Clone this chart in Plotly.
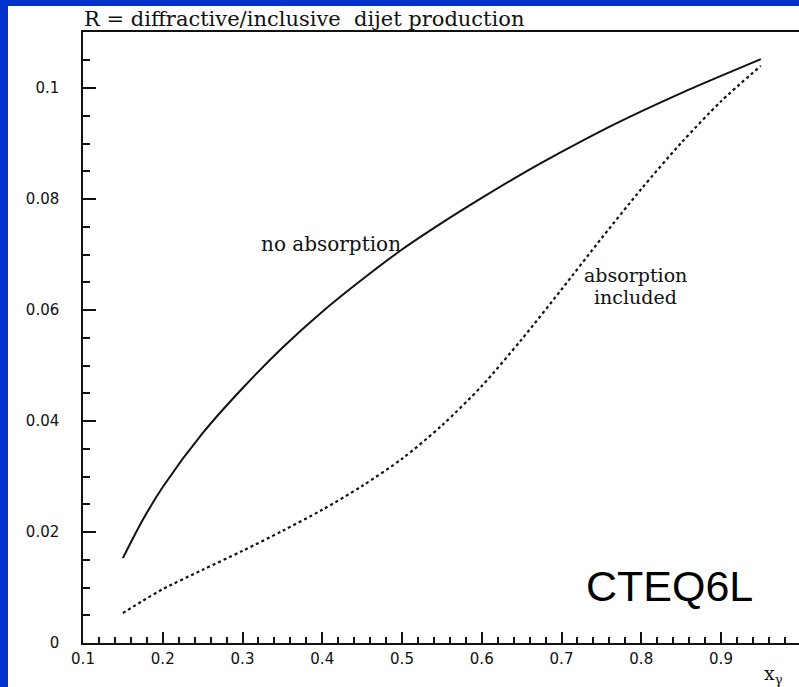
import plotly.graph_objects as go

# x_gamma grid and ratio R for the two predictions
x_gamma = [0.15, 0.175, 0.2, 0.25, 0.3, 0.35, 0.4, 0.45, 0.5, 0.55, 0.6,
           0.65, 0.7, 0.75, 0.8, 0.85, 0.9, 0.95]
r_no_absorption = [0.0153, 0.0222, 0.0281, 0.0378, 0.0459, 0.0532, 0.0597, 0.0655, 0.0709, 0.0757,
                   0.0802, 0.0845, 0.0885, 0.0923, 0.0958, 0.0991, 0.1022, 0.1052]
r_absorption = [0.0054, 0.0076, 0.0097, 0.0132, 0.0166, 0.0202, 0.0240, 0.0283, 0.0332, 0.0392,
                0.0463, 0.0547, 0.0637, 0.0729, 0.0818, 0.0901, 0.0976, 0.1040]

x_ticks = [0.1, 0.2, 0.3, 0.4, 0.5, 0.6, 0.7, 0.8, 0.9]
y_ticks = [0, 0.02, 0.04, 0.06, 0.08, 0.1]
y_tick_text = ["0", "0.02", "0.04", "0.06", "0.08", "0.1"]

W, H = 799, 687
L, T, B = 83, 32, 44
plot_w = W - L
plot_h = H - T - B
X_MIN, X_SCALE = 0.1, 797.5   # pixels per unit of x_gamma
X_MAX = X_MIN + plot_w / X_SCALE
Y_MAX = 0.1101
Y_SCALE = plot_h / Y_MAX

INK = "#111111"
BLUE = "#0033CC"
serif = "DejaVu Serif"

fig = go.Figure()
fig.add_trace(go.Scatter(x=x_gamma, y=r_no_absorption, mode="lines",
                         line=dict(color=INK, width=2, shape="spline", smoothing=0.8),
                         showlegend=False, hoverinfo="skip"))
fig.add_trace(go.Scatter(x=x_gamma, y=r_absorption, mode="lines",
                         line=dict(color=INK, width=2.2, dash="3px,3px", shape="spline",
                                   smoothing=0.8),
                         showlegend=False, hoverinfo="skip"))


def px_to_paper_x(px):
    return (px - L) / plot_w


def px_to_paper_y(py):
    return (H - B - py) / plot_h


# blue slide frame on the left and top edges
fig.add_shape(type="rect", xref="paper", yref="paper",
              x0=px_to_paper_x(0), x1=px_to_paper_x(8),
              y0=px_to_paper_y(H), y1=px_to_paper_y(0),
              fillcolor=BLUE, line_width=0, layer="above")
fig.add_shape(type="rect", xref="paper", yref="paper",
              x0=px_to_paper_x(0), x1=px_to_paper_x(W),
              y0=px_to_paper_y(6), y1=px_to_paper_y(0),
              fillcolor=BLUE, line_width=0, layer="above")

annotations = [
    dict(text="R = diffractive/inclusive  dijet production", xref="paper", yref="paper",
         x=px_to_paper_x(82), y=px_to_paper_y(19), xanchor="left", yanchor="middle",
         font=dict(family=serif, size=21, color=INK)),
    dict(text="no absorption", xref="x", yref="y", x=0.411, y=0.0719,
         xanchor="center", yanchor="middle", font=dict(family=serif, size=20, color=INK)),
    dict(text="absorption", xref="x", yref="y", x=0.7934, y=(H - B - 275) / Y_SCALE,
         xanchor="center", yanchor="middle", font=dict(family=serif, size=19, color=INK)),
    dict(text="included", xref="x", yref="y", x=0.7934, y=(H - B - 297) / Y_SCALE,
         xanchor="center", yanchor="middle", font=dict(family=serif, size=19, color=INK)),
    dict(text="CTEQ6L", xref="x", yref="y", x=0.836, y=0.0103,
         xanchor="center", yanchor="middle",
         font=dict(family="Liberation Sans", size=43, color="#000000")),
    dict(text="x<sub>γ</sub>", xref="paper", yref="paper",
         x=px_to_paper_x(773), y=px_to_paper_y(674), xanchor="center", yanchor="middle",
         font=dict(family=serif, size=19, color=INK)),
]
for a in annotations:
    a["showarrow"] = False
    fig.add_annotation(**a)

tick_font = dict(family="DejaVu Sans", size=15, color=INK)

fig.update_layout(
    width=W, height=H,
    margin=dict(l=L, r=0, t=T, b=B, pad=0),
    paper_bgcolor="white", plot_bgcolor="white",
    xaxis=dict(range=[X_MIN, X_MAX], tickvals=x_ticks, ticktext=[str(v) for v in x_ticks],
               ticks="inside", ticklen=11, tickwidth=1.5, tickcolor=INK,
               minor=dict(dtick=0.02, tick0=0.1, ticks="inside", ticklen=6,
                          tickwidth=1.5, tickcolor=INK, showgrid=False),
               showline=True, linecolor=INK, linewidth=1.5, mirror=True,
               showgrid=False, zeroline=False, tickfont=tick_font,
               ticklabelstandoff=1),
    yaxis=dict(range=[0, Y_MAX], tickvals=y_ticks, ticktext=y_tick_text,
               ticks="inside", ticklen=13, tickwidth=1.5, tickcolor=INK,
               minor=dict(dtick=0.005, tick0=0, ticks="inside", ticklen=7,
                          tickwidth=1.5, tickcolor=INK, showgrid=False),
               showline=True, linecolor=INK, linewidth=1.5, mirror=False,
               showgrid=False, zeroline=False, tickfont=tick_font,
               ticklabelstandoff=19),
)

fig.write_html("out.html")
